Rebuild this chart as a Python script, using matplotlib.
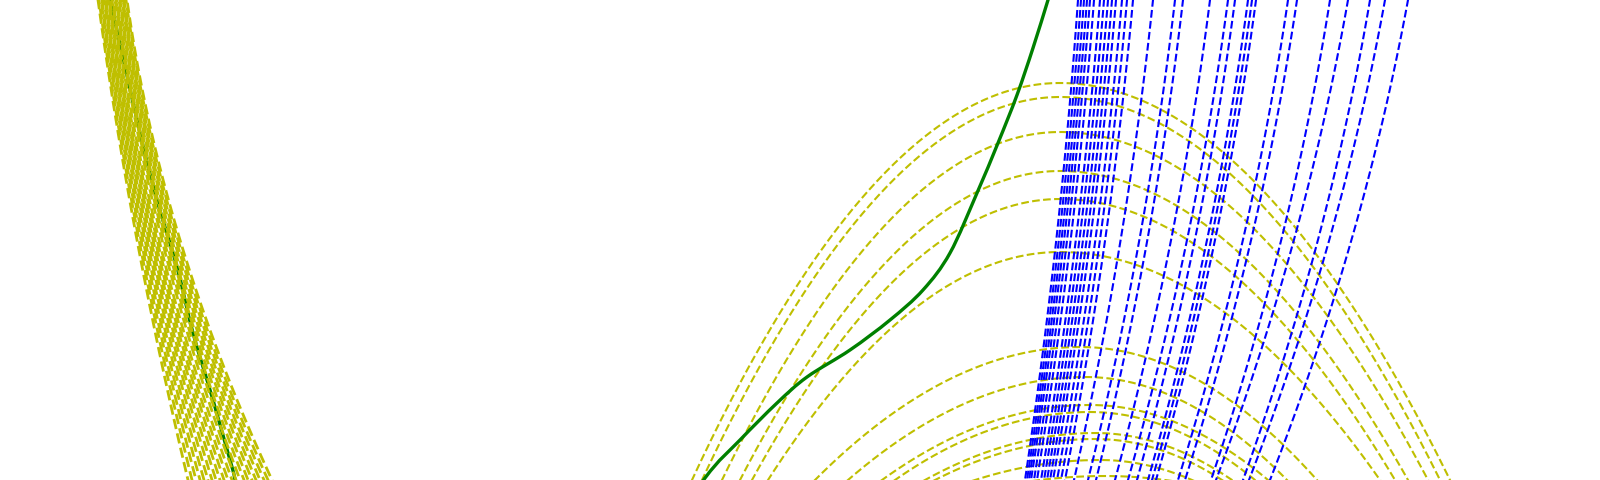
import numpy as np
import matplotlib
matplotlib.use("Agg")
import matplotlib.pyplot as plt
from matplotlib.path import Path
from matplotlib.patches import PathPatch

# ---------------- data (frame units: x 0..1600, y 0..480 top-down) ----------------
# left band of yellow dashed curves: x at y=0, y=240, y=480
band_top = [98, 99, 101, 102, 104, 105, 106, 108, 109, 110, 112, 113, 115, 116, 117, 119, 120, 122,
            123, 124, 126, 127]
band_mid = [137, 139, 141, 143, 145, 147, 149, 151, 153, 155, 157, 159, 162, 164, 166, 168, 170, 172,
            174, 176, 178, 180]
band_bot = [188, 192, 196, 200, 204, 208, 212, 216, 220, 224, 228, 232, 236, 240, 244, 248, 252, 256,
            260, 264, 268, 272]

# yellow dashed arcs: apex x, apex y, left foot x, right foot x (feet at bottom edge)
arc_apex_x = [1060, 1060, 1060, 1060, 1060, 1060, 1080, 1085, 1090, 1090, 1095, 1095, 1100, 1105]
arc_apex_y = [83, 97, 132, 171, 199, 252, 347, 377, 405, 412, 433, 439, 460, 476]
arc_left_x = [692, 702, 722, 740, 752, 768, 815, 848, 882, 895, 925, 935, 975, 1040]
arc_right_x = [1450, 1440, 1428, 1408, 1395, 1380, 1317, 1287, 1268, 1255, 1232, 1222, 1192, 1165]

# blue dashed lines: x at top edge and at bottom edge
blue_top = [1078, 1081, 1084, 1087, 1090, 1094, 1100, 1104, 1108, 1112, 1116, 1122, 1127, 1133,
            1153, 1175, 1183, 1210, 1228, 1235, 1248, 1252, 1256, 1288, 1297, 1330, 1348, 1370,
            1385, 1408]
blue_bot = [1025, 1027, 1029, 1031, 1034, 1037, 1041, 1044, 1047, 1050, 1053, 1057, 1061, 1065,
            1074, 1088, 1096, 1115, 1128, 1137, 1148, 1152, 1156, 1178, 1185, 1211, 1216, 1243,
            1249, 1270]
blue_bend = 0.09

# green solid curve (off-frame points only join the two visible parts)
green_x = [104, 110, 140, 157, 177, 193, 213, 232, 245, 300, 470, 650, 705, 740, 777, 807,
           850, 890, 923, 950, 977, 998, 1017, 1033, 1048, 1054]
green_y = [-20, 0, 133, 200, 267, 333, 400, 467, 510, 620, 760, 560, 478, 440, 403, 377,
           350, 320, 290, 253, 193, 143, 95, 48, 0, -20]

# ---------------- drawing ----------------
fig = plt.figure(figsize=(16, 4.8), dpi=100)
ax = fig.add_axes([0, 0, 1, 1])
ax.set_xlim(0, 1600)
ax.set_ylim(480, 0)
ax.axis("off")

# arcs
for axp, ayp, xl, xr in zip(arc_apex_x, arc_apex_y, arc_left_x, arc_right_x):
    xs = np.linspace(xl - 25, xr + 25, 400)
    w = np.where(xs <= axp, axp - xl, xr - axp)
    ys = ayp + (480 - ayp) * ((xs - axp) / w) ** 2
    ax.plot(xs, ys, "--", color="y", lw=1.5, zorder=1)

# blue lines
t = np.linspace(-0.06, 1.06, 100)
for xt, xb in zip(blue_top, blue_bot):
    xs = xt + (xb - xt) * t + 4 * blue_bend * (xt - xb) * t * (1 - t)
    ax.plot(xs, 480 * t, "--", color="b", lw=1.5, zorder=2)

# green curve drawn as a smooth Bezier path through the read points
P = np.column_stack([green_x, green_y]).astype(float)
verts = [P[0]]
codes = [Path.MOVETO]
for i in range(len(P) - 1):
    p0 = P[max(i - 1, 0)]
    p1 = P[i]
    p2 = P[i + 1]
    p3 = P[min(i + 2, len(P) - 1)]
    verts += [p1 + (p2 - p0) / 6.0, p2 - (p3 - p1) / 6.0, p2]
    codes += [Path.CURVE4] * 3
ax.add_patch(PathPatch(Path(verts, codes), facecolor="none", edgecolor="g", lw=2.4, zorder=2.5))

# left band (dash phase shifted line by line)
yy = np.linspace(-20, 500, 200)
for i, (xt, xm, xb) in enumerate(zip(band_top, band_mid, band_bot)):
    c = np.polyfit([0, 240, 480], [xt, xm, xb], 2)
    ax.plot(np.polyval(c, yy), yy, color="y", lw=2.0, zorder=3,
            linestyle=((i * 1.7) % 5.3, (3.7, 1.6)))

fig.savefig("out.png", dpi=100)
